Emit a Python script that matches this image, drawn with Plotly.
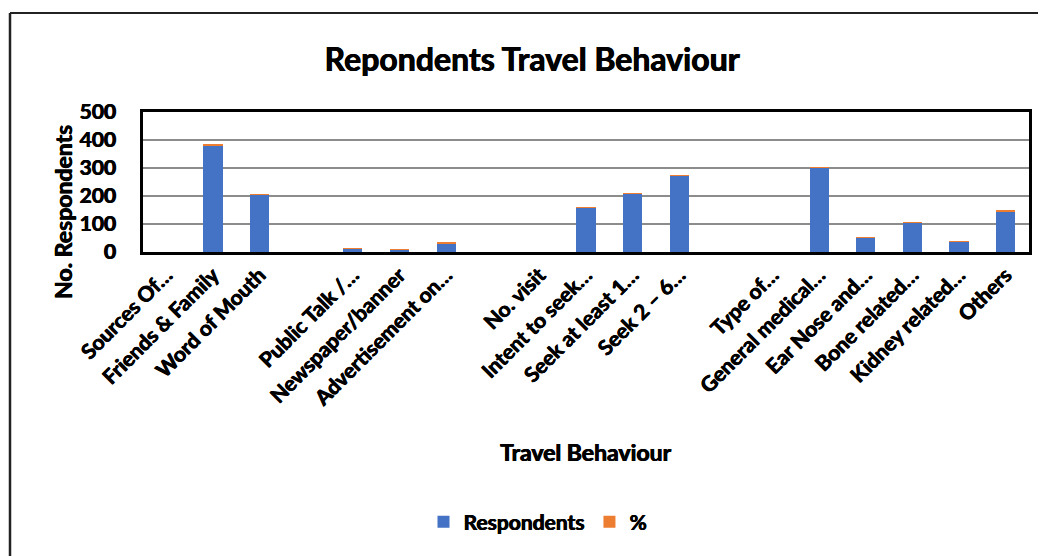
import plotly.graph_objects as go

categories = ["Sources Of…", "Friends & Family", "Word of Mouth", " ",
              "Public Talk /…", "Newspaper/banner", "Advertisement on…", "  ",
              "No. visit", "Intent to seek…", "Seek at least 1…", "Seek 2 – 6…", "   ",
              "Type of…", "General medical…", "Ear Nose and…", "Bone related…",
              "Kidney related…", "Others"]
respondents = [None, 382, 204, None, 13, 10, 32, None, None, 159, 209, 274, None,
               None, 302, 51, 105, 36, 146]
percent = [None, 0.8, 0.8, None, 0.8, 0.6, 0.8, None, None, 0.8, 0.8, 0.8, None,
           None, 0.8, 0.8, 1.2, 1.2, 0.8]
y_ticks = [0, 100, 200, 300, 400, 500]

FONT = "Lato"
WEIGHT = "bold"
SHADOW = "0.6px 0 0 black, -0.3px 0 0 black"
OFF = 8  # page body margin
W, H = 1046 - OFF, 556 - OFF
L, R, T, B = 143 - OFF, 17, 112 - OFF, H - (252 - OFF)
PW, PH = W - L - R, H - T - B


def px_x(px):
    return (px - OFF - L) / PW


def px_y(py):
    return (H - B - (py - OFF)) / PH


def fnt(size):
    return dict(family=FONT, size=size, color="black", weight=WEIGHT, shadow=SHADOW)


fig = go.Figure()
fig.add_trace(go.Bar(x=categories, y=respondents, name="Respondents",
                     marker=dict(color="#4472C4", line=dict(width=0))))
fig.add_trace(go.Bar(x=categories, y=percent, name="%",
                     marker=dict(color="#ED7D31", line=dict(width=0))))

fig.update_layout(
    width=W, height=H,
    margin=dict(l=L, r=R, t=T, b=B, autoexpand=False),
    barmode="stack", bargap=0.59,
    paper_bgcolor="white", plot_bgcolor="white",
    font=dict(family=FONT, color="black", weight=WEIGHT),
    title=dict(text="Repondents Travel Behaviour", x=(532 - OFF) / W, xanchor="center",
               y=1 - (60 - OFF) / H, yanchor="middle", font=fnt(32)),
    showlegend=True,
    legend=dict(orientation="h", x=px_x(538), xanchor="center", y=px_y(522), yanchor="middle",
                font=fnt(21), itemwidth=30, traceorder="normal"),
)
fig.update_xaxes(type="category", tickangle=-45, showgrid=False,
                 showline=True, linecolor="black", linewidth=2.5, mirror=True,
                 ticks="", tickfont=fnt(21), ticklabelshift=0)
fig.update_yaxes(range=[0, 500], tickvals=y_ticks, showgrid=True, gridcolor="#8c8c8c", gridwidth=2,
                 showline=True, linecolor="black", linewidth=2.5, mirror=True, zeroline=False,
                 ticks="", ticklabelstandoff=20, tickfont=fnt(21))

fig.add_annotation(text="No. Respondents", xref="paper", yref="paper",
                   x=px_x(63), y=px_y(212), textangle=-90, showarrow=False,
                   xanchor="center", yanchor="middle", font=fnt(23))
fig.add_annotation(text="Travel Behaviour", xref="paper", yref="paper",
                   x=px_x(585), y=px_y(452), showarrow=False,
                   xanchor="center", yanchor="middle", font=fnt(23))

# outer chart frame (left and top edges visible in the crop)
fig.add_shape(type="line", xref="paper", yref="paper",
              x0=px_x(10), y0=px_y(13), x1=px_x(1060), y1=px_y(13),
              line=dict(color="#222222", width=2))
fig.add_shape(type="line", xref="paper", yref="paper",
              x0=px_x(10), y0=px_y(13), x1=px_x(10), y1=px_y(570),
              line=dict(color="#222222", width=2.5))

fig.write_html("out.html")
